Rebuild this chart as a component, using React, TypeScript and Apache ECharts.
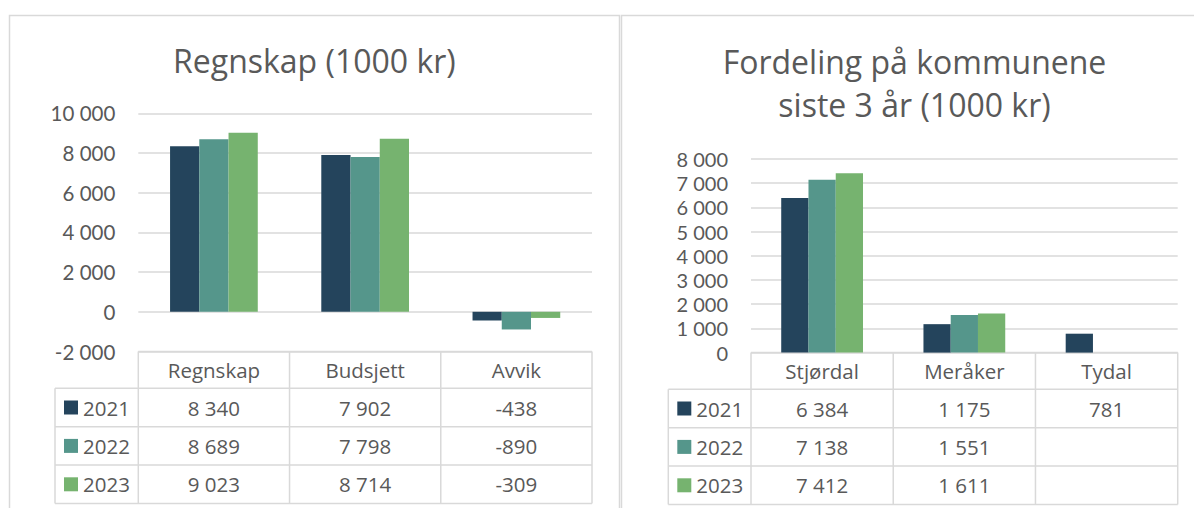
import React, { useEffect, useRef } from "react";
import * as echarts from "echarts";

// ---------- data ----------
const years = ["2021", "2022", "2023"];
const leftCategories = ["Regnskap", "Budsjett", "Avvik"];
const left2021 = [8340, 7902, -438];
const left2022 = [8689, 7798, -890];
const left2023 = [9023, 8714, -309];
const rightCategories = ["Stjørdal", "Meråker", "Tydal"];
const right2021 = [6384, 1175, 781];
const right2022 = [7138, 1551, null];
const right2023 = [7412, 1611, null];
const leftAxisMin = -2000;
const leftAxisMax = 10000;
const leftAxisStep = 2000;
const rightAxisMin = 0;
const rightAxisMax = 8000;
const rightAxisStep = 1000;
const leftTitle = "Regnskap (1000 kr)";
const rightTitleLines = ["Fordeling på kommunene", "siste 3 år (1000 kr)"];

// ---------- style ----------
const COLORS = ["#24445c", "#55968b", "#76b36f"];
const TEXT = "#595959";
const LINE = "#d9d9d9";
const FONT = "Open Sans";
const AXIS_FONT = "Lato";
const LABEL_SIZE = 20.5;

type Panel = {
  gridLeft: number;
  gridRight: number;
  gridTop: number;
  gridBottom: number;
  legendLeft: number;
  headerH: number;
  rowH: number;
};

const LEFT: Panel = {
  gridLeft: 138.3,
  gridRight: 592,
  gridTop: 113.3,
  gridBottom: 351.5,
  legendLeft: 55,
  headerH: 36.8,
  rowH: 38.4,
};
const RIGHT: Panel = {
  gridLeft: 751,
  gridRight: 1177.7,
  gridTop: 159,
  gridBottom: 352.6,
  legendLeft: 668.3,
  headerH: 36.7,
  rowH: 38.4,
};

function fmt(v: number | null): string {
  if (v === null || v === undefined) return "";
  const s = Math.abs(v)
    .toString()
    .replace(/\B(?=(\d{3})+(?!\d))/g, " ");
  return (v < 0 ? "-" : "") + s;
}

function line(x1: number, y1: number, x2: number, y2: number) {
  return {
    type: "line",
    shape: { x1, y1, x2, y2 },
    style: { stroke: LINE, lineWidth: 1.5 },
    silent: true,
  };
}

function txt(text: string, x: number, y: number, align: string, size = LABEL_SIZE) {
  return {
    type: "text",
    x,
    y,
    silent: true,
    style: {
      text,
      fill: TEXT,
      fontSize: size,
      fontFamily: FONT,
      lineHeight: Math.round(size * 1.05),
      align,
      verticalAlign: "middle",
    },
  };
}

function tableGraphics(p: Panel, cats: string[], rows: (number | null)[][]) {
  const els: any[] = [];
  const n = cats.length;
  const cw = (p.gridRight - p.gridLeft) / n;
  const headerBottom = p.gridBottom + p.headerH;
  const bottom = headerBottom + p.rowH * rows.length;
  els.push(line(p.gridLeft, p.gridBottom, p.gridRight, p.gridBottom));
  for (let i = 0; i <= n; i++) {
    const x = p.gridLeft + i * cw;
    els.push(line(x, p.gridBottom, x, bottom));
  }
  els.push(line(p.legendLeft, headerBottom, p.legendLeft, bottom));
  for (let r = 0; r <= rows.length; r++) {
    const y = headerBottom + r * p.rowH;
    els.push(line(p.legendLeft, y, p.gridRight, y));
  }
  cats.forEach((c, i) => {
    els.push(txt(c, p.gridLeft + (i + 0.5) * cw, p.gridBottom + p.headerH / 2, "center"));
  });
  rows.forEach((vals, r) => {
    const cy = headerBottom + (r + 0.5) * p.rowH;
    els.push({
      type: "rect",
      silent: true,
      shape: { x: p.legendLeft + 9, y: cy - 7, width: 14, height: 14 },
      style: { fill: COLORS[r] },
    });
    els.push(txt(years[r], p.legendLeft + 28, cy, "left"));
    vals.forEach((v, i) => {
      els.push(txt(fmt(v), p.gridLeft + (i + 0.5) * cw, cy, "center"));
    });
  });
  return els;
}

export default function App() {
  const ref = useRef<HTMLDivElement>(null);

  useEffect(() => {
    if (!ref.current) return;
    const chart = echarts.init(ref.current, null, { renderer: "svg" });

    const leftRows = [left2021, left2022, left2023];
    const rightRows = [right2021, right2022, right2023];

    const grid = [LEFT, RIGHT].map((p) => ({
      left: p.gridLeft,
      top: p.gridTop,
      width: p.gridRight - p.gridLeft,
      height: p.gridBottom - p.gridTop,
      containLabel: false,
    }));

    const xAxis = [leftCategories, rightCategories].map((cats, i) => ({
      type: "category",
      gridIndex: i,
      data: cats,
      axisLabel: { show: false },
      axisTick: { show: false },
      axisLine: { show: false },
      splitLine: { show: false },
    }));

    const yAxisBase = (i: number, min: number, max: number, step: number, size: number) => ({
      type: "value",
      gridIndex: i,
      min,
      max,
      interval: step,
      axisLine: { show: false },
      axisTick: { show: false },
      axisLabel: {
        color: TEXT,
        fontSize: size,
        fontFamily: AXIS_FONT,
        lineHeight: 18,
        margin: 23,
        formatter: (v: number) => fmt(v),
      },
      splitLine: { lineStyle: { color: LINE, width: 1.5 } },
    });

    const series: any[] = [];
    leftRows.forEach((arr, k) => {
      series.push({
        type: "bar",
        name: years[k],
        xAxisIndex: 0,
        yAxisIndex: 0,
        data: arr,
        barGap: "0%",
        barCategoryGap: "42%",
        itemStyle: { color: COLORS[k] },
      });
    });
    rightRows.forEach((arr, k) => {
      series.push({
        type: "bar",
        name: years[k],
        xAxisIndex: 1,
        yAxisIndex: 1,
        data: arr,
        barGap: "0%",
        barCategoryGap: "42.5%",
        itemStyle: { color: COLORS[k] },
      });
    });

    const graphic: any[] = [
      {
        type: "rect",
        silent: true,
        shape: { x: 9.5, y: 15.5, width: 610, height: 520 },
        style: { fill: "none", stroke: LINE, lineWidth: 1.5 },
      },
      {
        type: "rect",
        silent: true,
        shape: { x: 621.5, y: 15.5, width: 600, height: 520 },
        style: { fill: "none", stroke: LINE, lineWidth: 1.5 },
      },
      txt(leftTitle, 314.4, 60, "center", 32),
      txt(rightTitleLines[0], 914.5, 61, "center", 32),
      txt(rightTitleLines[1], 914.5, 104, "center", 32),
      ...tableGraphics(LEFT, leftCategories, leftRows),
      ...tableGraphics(RIGHT, rightCategories, rightRows),
    ];

    chart.setOption({
      animation: false,
      backgroundColor: "#ffffff",
      textStyle: { fontFamily: FONT },
      grid,
      xAxis,
      yAxis: [
        yAxisBase(0, leftAxisMin, leftAxisMax, leftAxisStep, 20.5),
        yAxisBase(1, rightAxisMin, rightAxisMax, rightAxisStep, 20),
      ],
      series,
      graphic,
    });

    return () => chart.dispose();
  }, []);

  return (
    <div
      ref={ref}
      style={{ position: "fixed", left: 0, top: 0, width: 1194, height: 508 }}
    />
  );
}
